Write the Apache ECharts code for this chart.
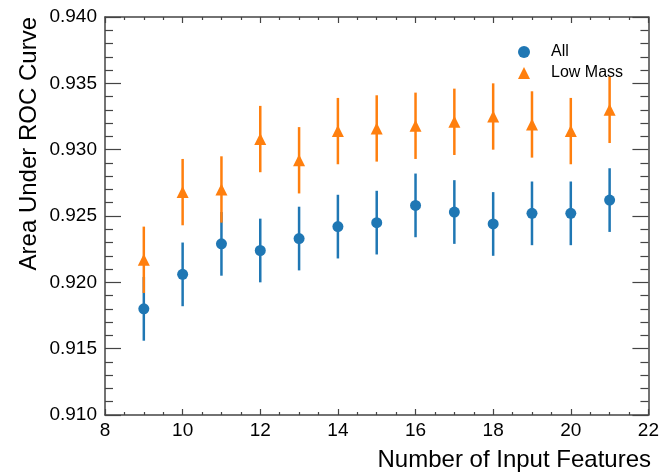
<!DOCTYPE html>
<html>
<head>
<meta charset="utf-8">
<script src="https://cdn.jsdelivr.net/npm/echarts@6/dist/echarts.min.js"></script>
<style>
html,body{margin:0;padding:0;background:#fff;}
#chart{width:662px;height:473px;}
</style>
</head>
<body>
<div id="chart"></div>
<script>
const features = [9, 10, 11, 12, 13, 14, 15, 16, 17, 18, 19, 20, 21];
const allAuc = [0.9180, 0.9206, 0.9229, 0.9224, 0.9233, 0.9242, 0.9245, 0.9258, 0.9253, 0.9244, 0.9252, 0.9252, 0.9262];
const allErr = [0.0024, 0.0024, 0.0024, 0.0024, 0.0024, 0.0024, 0.0024, 0.0024, 0.0024, 0.0024, 0.0024, 0.0024, 0.0024];
const lowAuc = [0.9217, 0.9268, 0.9270, 0.9308, 0.9292, 0.9314, 0.9316, 0.9318, 0.9321, 0.9325, 0.9319, 0.9314, 0.9330];
const lowErr = [0.0025, 0.0025, 0.0025, 0.0025, 0.0025, 0.0025, 0.0025, 0.0025, 0.0025, 0.0025, 0.0025, 0.0025, 0.0025];
const yTicks = ['0.910', '0.915', '0.920', '0.925', '0.930', '0.935', '0.940'];
const xTicks = ['8', '10', '12', '14', '16', '18', '20', '22'];

const BLUE = '#1f77b4', ORANGE = '#ff7f0e';
const FONT = 'Liberation Sans, Arial, Helvetica, sans-serif';
const AX = '#444';

function errData(vals, errs) {
  return features.map((x, i) => [x, vals[i] - errs[i], vals[i] + errs[i]]);
}
function errRender(color) {
  return function (params, api) {
    const lo = api.coord([api.value(0), api.value(1)]);
    const hi = api.coord([api.value(0), api.value(2)]);
    return {
      type: 'line',
      shape: { x1: lo[0], y1: lo[1], x2: hi[0], y2: hi[1] },
      style: { stroke: color, lineWidth: 2.5 }
    };
  };
}

const xMin = Number(xTicks[0]), xMax = Number(xTicks[xTicks.length - 1]);
const yMin = Number(yTicks[0]), yMax = Number(yTicks[yTicks.length - 1]);

function xAxisCfg(pos, showLabel) {
  return {
    type: 'value', position: pos, min: xMin, max: xMax, interval: 2,
    axisLine: { show: true, onZero: false, lineStyle: { color: AX, width: 1.5 } },
    axisTick: { show: true, inside: true, length: 6, lineStyle: { color: AX, width: 1.2 } },
    minorTick: { show: true, splitNumber: 4, length: 3, lineStyle: { color: AX, width: 1.2 } },
    splitLine: { show: false },
    axisLabel: { show: showLabel, color: '#000', fontSize: 19, fontFamily: FONT, margin: 6,
      formatter: v => String(v) }
  };
}
function yAxisCfg(pos, showLabel) {
  return {
    type: 'value', position: pos, min: yMin, max: yMax, interval: 0.005,
    axisLine: { show: true, onZero: false, lineStyle: { color: AX, width: 1.5 } },
    axisTick: { show: true, inside: true, length: 16, lineStyle: { color: AX, width: 1.2 } },
    minorTick: { show: true, splitNumber: 5, length: 8, lineStyle: { color: AX, width: 1.2 } },
    splitLine: { show: false },
    axisLabel: { show: showLabel, color: '#000', fontSize: 19, fontFamily: FONT, margin: 8,
      formatter: v => v.toFixed(3) }
  };
}

const chart = echarts.init(document.getElementById('chart'), null, { renderer: 'canvas' });
chart.setOption({
  animation: false,
  backgroundColor: '#fff',
  grid: { left: 105, right: 11, top: 17, bottom: 58, containLabel: false },
  xAxis: [xAxisCfg('bottom', true), xAxisCfg('top', false)],
  yAxis: [yAxisCfg('left', true), yAxisCfg('right', false)],
  legend: {
    data: ['All', 'Low Mass'],
    orient: 'vertical', left: 513, top: 39,
    itemWidth: 12, itemHeight: 12, itemGap: 5,
    textStyle: { fontSize: 16, fontFamily: FONT, color: '#000', padding: [0, 0, 0, 16] }
  },
  graphic: [
    { type: 'text', x: 29, y: 17, rotation: Math.PI / 2,
      style: { text: 'Area Under ROC Curve', fontSize: 24, fontFamily: FONT, fill: '#000',
        align: 'right', verticalAlign: 'middle' } },
    { type: 'text', x: 651, y: 460,
      style: { text: 'Number of Input Features', fontSize: 24, fontFamily: FONT, fill: '#000',
        align: 'right', verticalAlign: 'middle' } }
  ],
  series: [
    { name: 'All err', type: 'custom', xAxisIndex: 0, yAxisIndex: 0,
      renderItem: errRender(BLUE), data: errData(allAuc, allErr), z: 2 },
    { name: 'All', type: 'scatter', symbol: 'circle', symbolSize: 11,
      itemStyle: { color: BLUE, opacity: 1 },
      data: features.map((x, i) => [x, allAuc[i]]), z: 3 },
    { name: 'Low err', type: 'custom', xAxisIndex: 0, yAxisIndex: 0,
      renderItem: errRender(ORANGE), data: errData(lowAuc, lowErr), z: 4 },
    { name: 'Low Mass', type: 'scatter', symbol: 'triangle', symbolSize: 12,
      itemStyle: { color: ORANGE, opacity: 1 },
      data: features.map((x, i) => [x, lowAuc[i]]), z: 5 }
  ]
});
</script>
</body>
</html>
